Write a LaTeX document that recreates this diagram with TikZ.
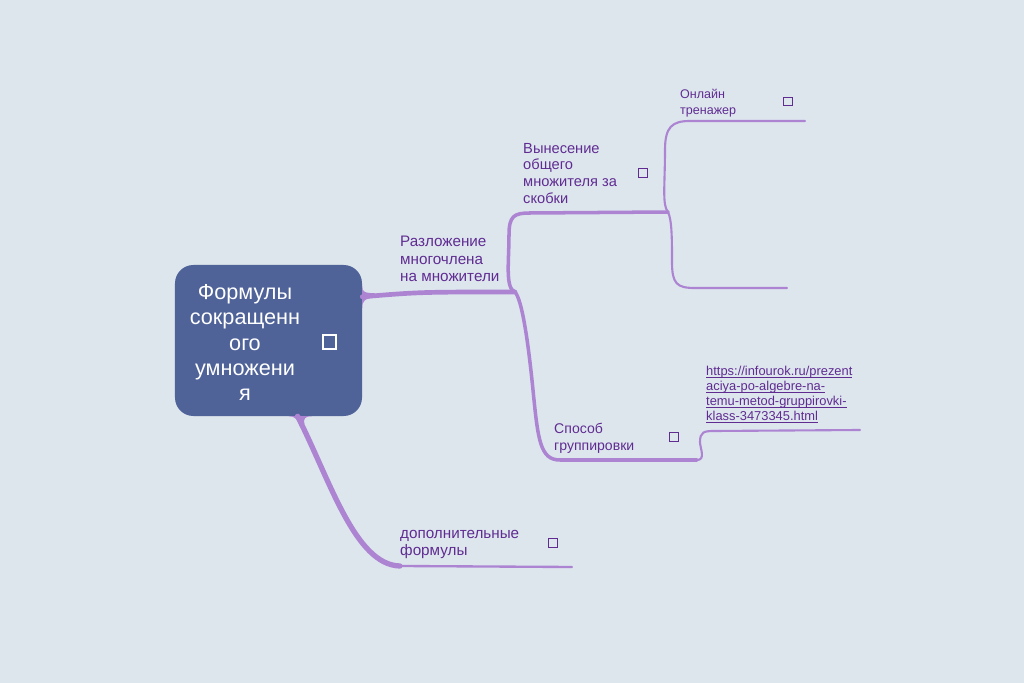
\documentclass[tikz,border=0pt]{standalone}
\usepackage{fontspec}
\setmainfont{Liberation Sans}
\usetikzlibrary{positioning}
\definecolor{paper}{RGB}{221,230,237}
\definecolor{hubblue}{RGB}{79,99,153}
\definecolor{twig}{RGB}{172,132,210}
\definecolor{ink}{RGB}{96,44,146}
\newcommand\linkline[1]{\setbox0=\hbox{#1}\rlap{\rule[-1.5pt]{\wd0}{0.55pt}}\box0}

\begin{document}
\begin{tikzpicture}[x=0.03cm, y=-0.03cm,
    topic/.style={anchor=north west, inner sep=0pt, align=left, text=ink},
    marker/.style={draw=ink, line width=1.1pt, minimum size=0.27cm, inner sep=0pt},
    branch/.style={draw=twig, line width=3pt, line cap=round},
    twigline/.style={draw=twig, line width=1.8pt, line cap=round}
]
\fill[paper] (0,0) rectangle (1024,683);
\useasboundingbox (0,0) rectangle (1024,683);

% central topic
\node[fill=hubblue, rounded corners=0.55cm, minimum width=5.61cm, minimum height=4.53cm] (hub) at (268.5,340.5) {};
\node[anchor=north, align=center, text=white, inner sep=0pt, font=\fontsize{18.5}{21.7}\selectfont] (hubtext) at (245,284) {Формулы\\сокращенн\\ого\\умножени\\я};
\node[draw=white, line width=1.6pt, minimum size=0.4cm, inner sep=0pt] (hubmark) at (329.5,342) {};

% topics
\node[topic, font=\fontsize{13}{14.9}\selectfont] (factor) at (400,236) {Разложение\\многочлена\\на множители};
\node[topic, font=\fontsize{12.5}{14.2}\selectfont] (common) at (523,143) {Вынесение\\общего\\множителя за\\скобки};
\node[topic, font=\fontsize{10.7}{13.6}\selectfont] (online) at (680,89) {Онлайн\\тренажер};
\node[topic, font=\fontsize{12}{14.4}\selectfont] (group) at (554,423) {Способ\\группировки};
\node[topic, font=\fontsize{11}{12.8}\selectfont] (link) at (706,366) {\linkline{https://infourok.ru/prezent}\\\linkline{aciya-po-algebre-na-}\\\linkline{temu-metod-gruppirovki-}\\\linkline{klass-3473345.html}};
\node[topic, font=\fontsize{13}{14.5}\selectfont] (extra) at (400,530) {дополнительные\\формулы};

\node[marker] (commonmark) at (643,173) {};
\node[marker, minimum size=0.25cm] (onlinemark) at (788,101.5) {};
\node[marker, minimum size=0.25cm] (groupmark) at (674,437) {};
\node[marker] (extramark) at (553,543) {};

% joints and line ends
\coordinate (fork) at (515,292);
\coordinate (fork2) at (668,212);
\coordinate (groupend) at (697,460);
\coordinate (linkend) at (860,430);
\coordinate (onlineend) at (805,121);
\coordinate (blankend) at (787,288);
\coordinate (extrain) at (400,566);
\coordinate (extraend) at (572,567);

% flares where the branches leave the box
\fill[twig] (hub.30) .. controls (362,292) and (365,293) .. (375,293.3) -- (375,297.8) .. controls (365,298) and (362,301) .. (hub.19) -- cycle;
\fill[twig] (hub.-75) .. controls (295,416) and (298,420) .. (299.6,426) -- (304.4,424) .. controls (303,419) and (305,416) .. (hub.-60) -- cycle;

\draw[branch, line width=4pt] (hub.25) .. controls (420,292) .. (fork);
\draw[branch] (fork) .. controls (505,288) and (509,262) .. (509,235) .. controls (509,216) and (514,213) .. (530,213) -- (fork2);
\draw[branch] (fork) .. controls (522,300) and (528,340) .. (533,390) .. controls (538,440) and (540,460) .. (560,460) -- (groupend);
\draw[twigline] (groupend) .. controls (706,460) and (700,448) .. (700,442) .. controls (700,432) and (704,431) .. (714,431) -- (linkend);
\draw[twigline] (fork2) .. controls (662,205) and (665,185) .. (665,150) .. controls (665,127) and (672,121) .. (690,121) -- (onlineend);
\draw[twigline] (fork2) .. controls (672,220) and (672,240) .. (672,262) .. controls (672,284) and (677,288) .. (695,288) -- (blankend);
\draw[branch, line width=4.5pt] (hub.-69) .. controls (330,480) and (355,565) .. (extrain);
\draw[branch, line width=2pt] (extrain) -- (extraend);
\end{tikzpicture}
\end{document}
